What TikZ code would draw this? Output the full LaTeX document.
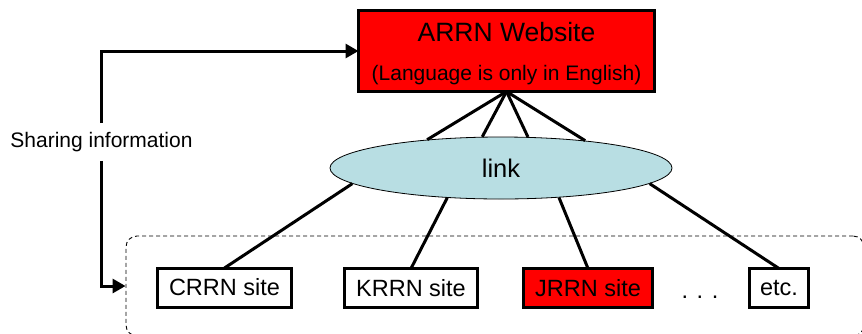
\documentclass[tikz,border=0pt]{standalone}
\usepackage{fontspec}
\setmainfont{Liberation Sans}
\usetikzlibrary{arrows.meta,shapes.geometric}
\definecolor{linkblue}{RGB}{184,222,227}
\definecolor{boxred}{RGB}{255,0,0}
\begin{document}
\begin{tikzpicture}[x=1pt,y=-1pt,
  sitebox/.style={draw=black, line width=3pt, minimum height=39pt, inner sep=0pt, outer sep=0pt, font=\fontsize{23.5}{28}\selectfont},
  conn/.style={line width=3pt},
  sharearrow/.style={line width=3pt, -{Triangle[length=13pt,width=14pt]}},
  groupbox/.style={draw=black, line width=0.9pt, dash pattern=on 4pt off 3pt, rounded corners=11pt, inner sep=0pt},
]
\useasboundingbox (0,0) rectangle (862,333);
\begin{scope}
  \clip (0,0) rectangle (862,333);
  \node[groupbox, minimum width=738pt, minimum height=100pt] (group) at (495,286) {};
\end{scope}

% top box
\node[draw=black, fill=boxred, line width=3pt, minimum width=296pt, minimum height=81pt, inner sep=0pt, outer sep=0pt] (arrn) at (506.5,51) {};
\node[font=\fontsize{26.5}{30}\selectfont, inner sep=0pt] (t1) at (506.5,32.5) {ARRN Website};
\node[font=\fontsize{21}{25}\selectfont, inner sep=0pt] (t2) at (506.5,75.5) {(Language is only in English)};

% link ellipse
\node[ellipse, draw=black, line width=0.8pt, fill=linkblue, minimum width=342pt, minimum height=62pt, inner sep=0pt, font=\fontsize{25.5}{30}\selectfont] (link) at (501,168) {link};

% sites
\node[sitebox, minimum width=134pt] (crrn) at (224.5,287.5) {CRRN site};
\node[sitebox, minimum width=133pt] (krrn) at (411,288) {KRRN site};
\node[sitebox, fill=boxred, minimum width=129pt] (jrrn) at (588,288) {JRRN site};
\node[sitebox, minimum width=59pt] (etc) at (779,288) {etc.};
\node[font=\fontsize{23.5}{28}\selectfont, anchor=base, inner sep=0pt] (dots) at (700,298) {. . .};

% connectors
\draw[conn] (arrn.south) -- (link.159);
\draw[conn] (arrn.south) -- (link.121.7);
\draw[conn] (arrn.south) -- (link.49.6);
\draw[conn] (arrn.south) -- (link.18.6);
\draw[conn] (link.186.3) -- (crrn.north);
\draw[conn] (link.209) -- (krrn.north);
\draw[conn] (link.-27.8) -- (jrrn.north);
\draw[conn] (link.-6.2) -- (etc.north);

% sharing information
\node[font=\fontsize{21}{25}\selectfont, inner xsep=0pt, inner ysep=9pt] (share) at (101.5,142) {Sharing information};
\draw[sharearrow] (share.north) |- (arrn.west);
\draw[sharearrow] (share.south) |- (group.west);
\end{tikzpicture}
\end{document}
